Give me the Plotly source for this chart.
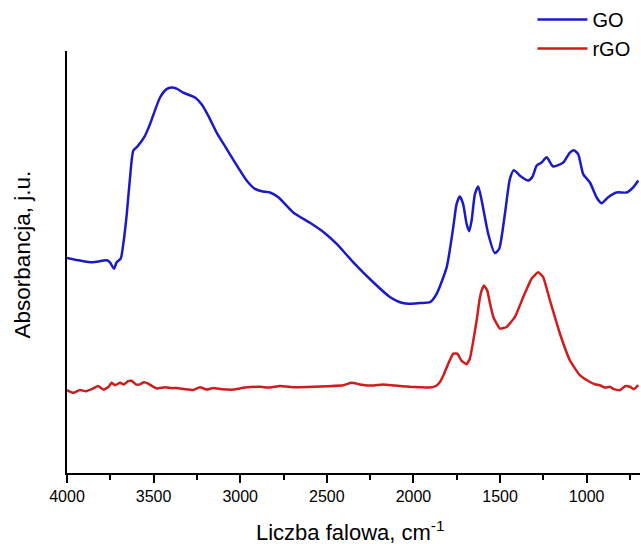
import plotly.graph_objects as go

# GO spectrum (wavenumber cm-1, absorbance a.u.)
go_wn = [4000, 3857, 3771, 3752, 3729, 3713, 3690, 3675, 3655, 3636, 3617, 3594,
         3550, 3521, 3463, 3425, 3396, 3367, 3329, 3261, 3223, 3184, 3136, 3098,
         3030, 2963, 2915, 2876, 2828, 2780, 2694, 2597, 2511, 2443, 2347, 2232,
         2136, 2078, 2030, 1962, 1905, 1866, 1808, 1770, 1751, 1732, 1713, 1693,
         1678, 1664, 1645, 1626, 1606, 1568, 1530, 1505, 1472, 1443, 1420, 1385,
         1337, 1312, 1289, 1260, 1231, 1193, 1135, 1097, 1074, 1049, 1020, 981,
         943, 914, 876, 827, 769, 731, 702]
go_abs = [0.539, 0.528, 0.533, 0.528, 0.512, 0.528, 0.537, 0.574, 0.649, 0.741, 0.808, 0.818,
          0.845, 0.874, 0.941, 0.962, 0.966, 0.963, 0.953, 0.941, 0.924, 0.895, 0.853, 0.826,
          0.778, 0.733, 0.712, 0.706, 0.703, 0.691, 0.653, 0.627, 0.601, 0.574, 0.528, 0.478,
          0.441, 0.428, 0.424, 0.426, 0.428, 0.449, 0.516, 0.616, 0.674, 0.693, 0.674, 0.624,
          0.606, 0.633, 0.699, 0.718, 0.683, 0.599, 0.551, 0.562, 0.649, 0.737, 0.759, 0.745,
          0.733, 0.743, 0.770, 0.778, 0.791, 0.768, 0.778, 0.803, 0.809, 0.799, 0.749, 0.728,
          0.691, 0.676, 0.691, 0.703, 0.703, 0.716, 0.733]

# rGO spectrum
rgo_wn = [4000, 3964, 3925, 3890, 3848, 3821, 3790, 3763, 3742, 3723, 3694, 3671,
          3648, 3627, 3602, 3579, 3556, 3531, 3509, 3482, 3434, 3394, 3367, 3319,
          3271, 3232, 3192, 3156, 3105, 3040, 2973, 2886, 2828, 2771, 2684, 2578,
          2494, 2405, 2357, 2309, 2240, 2174, 2107, 2020, 1962, 1905, 1870, 1847,
          1824, 1799, 1770, 1747, 1722, 1693, 1674, 1654, 1635, 1619, 1606, 1593,
          1574, 1558, 1539, 1501, 1462, 1414, 1366, 1318, 1280, 1251, 1212, 1154,
          1097, 1039, 981, 952, 924, 895, 866, 843, 808, 779, 750, 727, 702]
rgo_abs = [0.208, 0.201, 0.208, 0.205, 0.212, 0.218, 0.209, 0.215, 0.226, 0.220, 0.226, 0.222,
           0.230, 0.231, 0.222, 0.222, 0.2275, 0.224, 0.218, 0.212, 0.215, 0.2125, 0.213, 0.210,
           0.208, 0.215, 0.209, 0.213, 0.210, 0.209, 0.214, 0.216, 0.214, 0.218, 0.215, 0.216,
           0.2175, 0.220, 0.226, 0.222, 0.219, 0.222, 0.219, 0.216, 0.215, 0.214, 0.218, 0.228,
           0.2475, 0.274, 0.299, 0.299, 0.281, 0.2725, 0.287, 0.3325, 0.3825, 0.4325, 0.4575, 0.470,
           0.4575, 0.425, 0.391, 0.362, 0.366, 0.391, 0.441, 0.487, 0.503, 0.491, 0.4325, 0.349,
           0.2825, 0.245, 0.228, 0.2225, 0.220, 0.214, 0.216, 0.210, 0.2075, 0.2175, 0.216, 0.210, 0.220]

x_tickvals = [4000, 3500, 3000, 2500, 2000, 1500, 1000]
x_ticktext = ["4000", "3500", "3000", "2500", "2000", "1500", "1000"]
x_minor_vals = [3750, 3250, 2750, 2250, 1750, 1250, 750]

FONT = "Arial, Liberation Sans, sans-serif"

fig = go.Figure()
fig.add_trace(go.Scatter(x=go_wn, y=go_abs, mode="lines", name="GO",
                         line=dict(color="#1a1ac8", width=2.5, shape="spline", smoothing=0.6)))
fig.add_trace(go.Scatter(x=rgo_wn, y=rgo_abs, mode="lines", name="rGO",
                         line=dict(color="#d01c1c", width=2.5, shape="spline", smoothing=0.4)))

fig.update_layout(
    width=641, height=544,
    margin=dict(l=67, r=1, t=50, b=71),
    paper_bgcolor="white", plot_bgcolor="white",
    font=dict(family=FONT, color="black"),
    showlegend=True,
    legend=dict(x=0.992, xanchor="right", y=1.118, yanchor="top",
                font=dict(family=FONT, size=20, color="black"),
                bgcolor="rgba(0,0,0,0)", itemwidth=50, tracegroupgap=0),
    xaxis=dict(range=[4000, 692], tickvals=x_tickvals, ticktext=x_ticktext,
               ticks="outside", ticklen=8, tickwidth=1.5, tickcolor="black",
               showline=True, linecolor="black", linewidth=1.5,
               showgrid=False, zeroline=False,
               tickfont=dict(family=FONT, size=16, color="black"),
               minor=dict(tickvals=x_minor_vals,
                          ticks="outside", ticklen=5, tickwidth=1.5, tickcolor="black",
                          showgrid=False)),
    yaxis=dict(range=[0, 1.0575], showticklabels=False, ticks="",
               showline=True, linecolor="black", linewidth=1.5,
               showgrid=False, zeroline=False),
    annotations=[
        dict(text="Liczba falowa, cm<sup>-1</sup>", xref="paper", yref="paper",
             x=0.494, y=-0.137, xanchor="center", yanchor="middle", showarrow=False,
             font=dict(family=FONT, size=22, color="black")),
        dict(text="Absorbancja, j.u.", xref="paper", yref="paper",
             x=-0.0785, y=0.518, xanchor="center", yanchor="middle", showarrow=False,
             textangle=-90, font=dict(family=FONT, size=22.5, color="black")),
    ],
)

fig.write_html("out.html")
